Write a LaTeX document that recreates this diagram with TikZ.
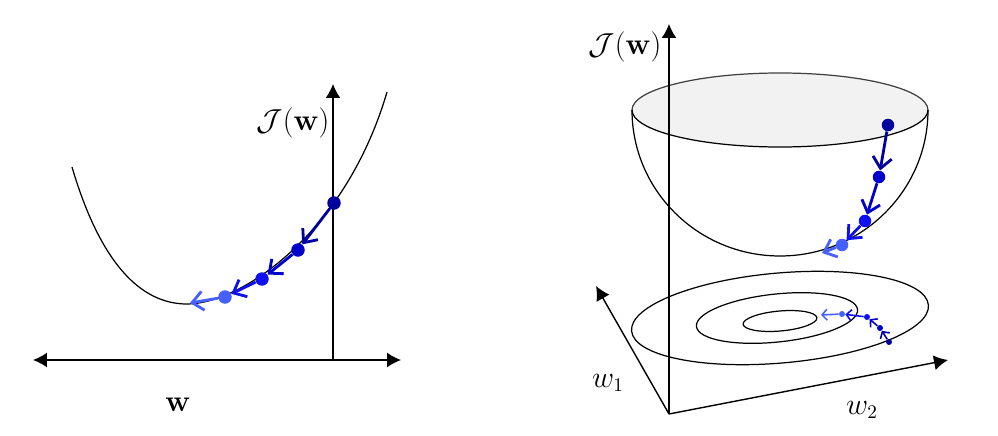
\documentclass[tikz,border=0pt]{standalone}
\usepackage{amsmath,amssymb}
\usetikzlibrary{arrows.meta, positioning}
\definecolor{stepA}{RGB}{0,0,160}
\definecolor{stepB}{RGB}{0,0,205}
\definecolor{stepC}{RGB}{15,15,240}
\definecolor{stepD}{RGB}{70,95,255}
\tikzset{
  axis/.style={-{Latex[length=2.8mm,width=3mm]}, line width=0.8pt},
  curve/.style={line width=0.7pt},
  gdot/.style={circle, fill=#1, inner sep=0pt, minimum size=0.27cm},
  bdot/.style={circle, fill=#1, inner sep=0pt, minimum size=0.25cm},
  sdot/.style={circle, fill=#1, inner sep=0pt, minimum size=0.12cm},
  gdstep/.style={draw=#1, line width=1.6pt, -{Straight Barb[length=2.2mm,width=3.8mm]}},
  sstep/.style={draw=#1, line width=0.9pt, -{Straight Barb[length=1mm,width=2.2mm]}},
  lab/.style={font=\fontsize{16}{19}\selectfont},
}
\begin{document}
\begin{tikzpicture}[x=0.02cm, y=-0.02cm]
  \useasboundingbox (0,0) rectangle (998,436);

  % 1-D case
  \coordinate (lO) at (333,360);
  \coordinate (lTop) at (333,84);
  \coordinate (lL) at (33,360);
  \coordinate (lR) at (401,360);
  \draw[axis, {Latex[length=2.8mm,width=3mm]}-{Latex[length=2.8mm,width=3mm]}] (lL) -- (lR);
  \draw[axis] (lO) -- (lTop);
  \draw[curve] (72,167) .. controls (100,262) and (140,304) .. (187,304)
    .. controls (240,304) and (345,235) .. (387,92);
  \node[lab] (lJ) at (293,123) {$\mathcal{J}(\mathbf{w})$};
  \node[lab] (lw) at (178,405) {$\mathbf{w}$};

  \node[gdot=stepA] (l1) at (334,203) {};
  \node[gdot=stepB] (l2) at (298,250) {};
  \node[gdot=stepC] (l3) at (262,279) {};
  \node[gdot=stepD] (l4) at (225,297) {};
  \coordinate (ltip) at (190,303);
  \draw[gdstep=stepA] (l1) -- (l2);
  \draw[gdstep=stepB] (l2) -- (l3);
  \draw[gdstep=stepC] (l3) -- (l4);
  \draw[gdstep=stepD] (l4) -- (ltip);

  % 2-D case: bowl
  \fill[gray!10] (780,110) ellipse [x radius=148, y radius=37];
  \draw[black!75, line width=0.7pt] (632,110) arc[start angle=180, end angle=360, x radius=148, y radius=37];
  \draw[curve] (632,110) arc[start angle=180, end angle=0, x radius=148, y radius=37];
  \draw[curve] (632,110) arc[start angle=180, end angle=0, x radius=148, y radius=146];

  % axes
  \coordinate (rO) at (669,414);
  \coordinate (rTop) at (669,24);
  \coordinate (rW1) at (596,286);
  \coordinate (rW2) at (948,360);
  \draw[axis] (rO) -- (rTop);
  \draw[axis] (rO) -- (rW1);
  \draw[axis] (rO) -- (rW2);
  \node[lab] (rJ) at (625,47) {$\mathcal{J}(\mathbf{w})$};
  \node[lab] (rw1) at (608,383) {$w_1$};
  \node[lab] (rw2) at (862,410) {$w_2$};

  % contours
  \draw[curve, rotate around={5:(780,318)}] (780,318) ellipse [x radius=149, y radius=45];
  \draw[curve, rotate around={6:(777,318)}] (777,318) ellipse [x radius=81, y radius=24];
  \draw[curve, rotate around={5:(780,321)}] (780,321) ellipse [x radius=37, y radius=10];

  % steps on the bowl
  \node[bdot=stepA] (b1) at (888,125) {};
  \node[bdot=stepB] (b2) at (879,177) {};
  \node[bdot=stepC] (b3) at (865,221) {};
  \node[bdot=stepD] (b4) at (842,245) {};
  \coordinate (btip) at (822,253);
  \draw[gdstep=stepA] (b1) -- (b2);
  \draw[gdstep=stepB] (b2) -- (b3);
  \draw[gdstep=stepC] (b3) -- (b4);
  \draw[gdstep=stepD] (b4) -- (btip);

  % steps on the contours
  \node[sdot=stepA] (c1) at (889,342) {};
  \node[sdot=stepB] (c2) at (880,328) {};
  \node[sdot=stepC] (c3) at (867,317) {};
  \node[sdot=stepD] (c4) at (842,314) {};
  \coordinate (ctip) at (821,315);
  \draw[sstep=stepA] (c1) -- (c2);
  \draw[sstep=stepB] (c2) -- (c3);
  \draw[sstep=stepC] (c3) -- (c4);
  \draw[sstep=stepD] (c4) -- (ctip);
\end{tikzpicture}
\end{document}
